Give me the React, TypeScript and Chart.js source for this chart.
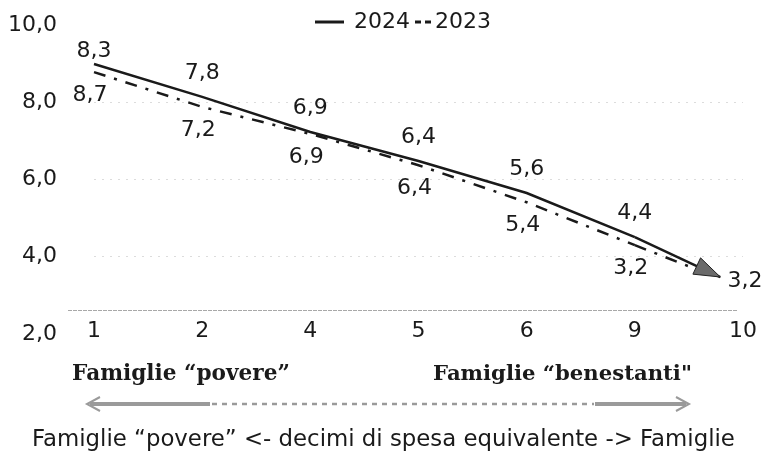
import React, { useEffect, useRef } from "react";
import { Chart, registerables } from "chart.js";

Chart.register(...registerables);

// ---- data ----
const categories = ["1", "2", "4", "5", "6", "9", "10"];
const series2024 = [8.99, 8.14, 7.23, 6.48, 5.65, 4.51, 3.2];
const series2023 = [8.78, 7.88, 7.18, 6.37, 5.41, 4.3, 3.2];
const labels2024 = ["8,3", "7,8", "6,9", "6,4", "5,6", "4,4", "3,2"];
const labels2023 = ["8,7", "7,2", "6,9", "6,4", "5,4", "3,2", ""];
const yTicks = [2, 4, 6, 8, 10];
const legendNames = ["2024", "2023"];
const groupLeft = "Famiglie “povere”";
const groupRight = "Famiglie “benestanti\"";
const footer = "Famiglie “povere” <- decimi di spesa equivalente -> Famiglie";
const baselineValue = 2.62;

const INK = "#1a1a1a";
const SANS = "'DejaVu Sans'";
const SERIF = "'DejaVu Serif'";
const DASH23 = [12, 9, 3, 9];

function fitText(ctx: CanvasRenderingContext2D, text: string, left: number, right: number, baseline: number, family: string, weight: string) {
  ctx.font = `${weight} 20px ${family}`;
  const w = ctx.measureText(text).width;
  const size = (20 * (right - left)) / w;
  ctx.font = `${weight} ${size}px ${family}`;
  ctx.textAlign = "left";
  ctx.textBaseline = "alphabetic";
  ctx.fillText(text, left, baseline);
}

const overlay = {
  id: "overlay",
  beforeDatasetsDraw(chart: any) {
    const ctx: CanvasRenderingContext2D = chart.ctx;
    const y = Math.round(chart.scales.y.getPixelForValue(baselineValue)) + 0.5;
    ctx.save();
    ctx.strokeStyle = "#a8a8a8";
    ctx.lineWidth = 1;
    ctx.setLineDash([4, 1]);
    ctx.beginPath();
    ctx.moveTo(68, y);
    ctx.lineTo(738, y);
    ctx.stroke();
    ctx.restore();
  },
  afterDatasetsDraw(chart: any) {
    const ctx: CanvasRenderingContext2D = chart.ctx;
    const n = categories.length;
    const m24 = chart.getDatasetMeta(0);
    const m23 = chart.getDatasetMeta(1);

    const partial = (meta: any, frac: number, dash: number[]) => {
      const a = meta.data[n - 2];
      const b = meta.data[n - 1];
      const ex = a.x + (b.x - a.x) * frac;
      const ey = a.y + (b.y - a.y) * frac;
      ctx.save();
      ctx.setLineDash(dash);
      ctx.lineWidth = 2.5;
      ctx.strokeStyle = INK;
      ctx.beginPath();
      ctx.moveTo(a.x, a.y);
      ctx.lineTo(ex, ey);
      ctx.stroke();
      ctx.restore();
      return { ex, ey, ang: Math.atan2(b.y - a.y, b.x - a.x) };
    };
    partial(m23, 0.6, DASH23);
    const t = partial(m24, 0.79, []);
    // arrow head
    const L = 26, H = 9;
    const bx = t.ex - L * Math.cos(t.ang);
    const by = t.ey - L * Math.sin(t.ang);
    const px = -Math.sin(t.ang), py = Math.cos(t.ang);
    ctx.save();
    ctx.beginPath();
    ctx.moveTo(t.ex, t.ey);
    ctx.lineTo(bx + px * H, by + py * H);
    ctx.lineTo(bx - px * H, by - py * H);
    ctx.closePath();
    ctx.fillStyle = "#6a6a6a";
    ctx.fill();
    ctx.lineWidth = 1;
    ctx.strokeStyle = "#222";
    ctx.stroke();
    ctx.restore();

    // data labels
    ctx.save();
    ctx.fillStyle = INK;
    ctx.font = `22px ${SANS}`;
    ctx.textAlign = "center";
    ctx.textBaseline = "middle";
    labels2024.forEach((s, i) => {
      const p = m24.data[i];
      if (!s) return;
      if (i === n - 1) ctx.fillText(s, p.x + 2, p.y - 6);
      else ctx.fillText(s, p.x, p.y - (i === 0 ? 13 : 24));
    });
    labels2023.forEach((s, i) => {
      const p = m23.data[i];
      if (!s) return;
      ctx.fillText(s, p.x - 4, p.y + 23);
    });
    ctx.restore();
  },
  afterDraw(chart: any) {
    const ctx: CanvasRenderingContext2D = chart.ctx;
    ctx.save();
    // legend
    ctx.strokeStyle = INK;
    ctx.lineWidth = 3;
    ctx.beginPath();
    ctx.moveTo(315, 22);
    ctx.lineTo(344, 22);
    ctx.stroke();
    ctx.beginPath();
    ctx.moveTo(415, 22);
    ctx.lineTo(421, 22);
    ctx.moveTo(425, 22);
    ctx.lineTo(431, 22);
    ctx.stroke();
    ctx.fillStyle = INK;
    ctx.font = `22px ${SANS}`;
    ctx.textAlign = "left";
    ctx.textBaseline = "middle";
    ctx.fillText(legendNames[0], 354, 22);
    ctx.fillText(legendNames[1], 435, 22);

    // group captions
    fitText(ctx, groupLeft, 72, 290, 380, SERIF, "bold");
    fitText(ctx, groupRight, 433, 692, 380, SERIF, "bold");

    // double arrow
    const y = 404;
    ctx.strokeStyle = "#9a9a9a";
    ctx.lineCap = "butt";
    ctx.lineWidth = 4;
    ctx.beginPath();
    ctx.moveTo(90, y);
    ctx.lineTo(210, y);
    ctx.moveTo(595, y);
    ctx.lineTo(686, y);
    ctx.stroke();
    ctx.lineWidth = 2.5;
    ctx.setLineDash([5, 5]);
    ctx.beginPath();
    ctx.moveTo(212, y);
    ctx.lineTo(594, y);
    ctx.stroke();
    ctx.setLineDash([]);
    ctx.lineWidth = 2;
    ctx.beginPath();
    ctx.moveTo(100, y - 7);
    ctx.lineTo(87, y);
    ctx.lineTo(100, y + 7);
    ctx.moveTo(676, y - 7);
    ctx.lineTo(689, y);
    ctx.lineTo(676, y + 7);
    ctx.stroke();

    // footer
    ctx.fillStyle = INK;
    fitText(ctx, footer, 32, 735, 446, SANS, "normal");
    ctx.restore();
  },
};

export default function App() {
  const ref = useRef<HTMLCanvasElement | null>(null);
  useEffect(() => {
    if (!ref.current) return;
    const last = categories.length - 1;
    const chart = new Chart(ref.current, {
      type: "line",
      data: {
        labels: categories,
        datasets: [
          {
            label: legendNames[0],
            data: series2024,
            borderColor: INK,
            borderWidth: 2.5,
            pointRadius: 0,
            tension: 0,
            segment: { borderColor: (c: any) => (c.p1DataIndex === last ? "rgba(0,0,0,0)" : INK) },
          },
          {
            label: legendNames[1],
            data: series2023,
            borderColor: INK,
            borderWidth: 2.5,
            borderDash: DASH23,
            pointRadius: 0,
            tension: 0,
            segment: { borderColor: (c: any) => (c.p1DataIndex === last ? "rgba(0,0,0,0)" : INK) },
          },
        ],
      },
      options: {
        responsive: false,
        animation: false,
        devicePixelRatio: 1,
        layout: { padding: { left: 8, right: 22, top: 25, bottom: 124 } },
        plugins: { legend: { display: false }, tooltip: { enabled: false } },
        scales: {
          x: {
            position: { y: baselineValue } as any,
            offset: false,
            grid: { display: false, drawTicks: false },
            border: { display: false },
            ticks: { color: INK, font: { family: "DejaVu Sans", size: 22 }, padding: 8, maxRotation: 0, autoSkip: false },
          },
          y: {
            min: 2,
            max: 10,
            afterBuildTicks: (s: any) => {
              s.ticks = yTicks.map((v) => ({ value: v }));
            },
            afterFit: (s: any) => {
              s.width = 86;
              s.paddingTop = 13;
              s.paddingBottom = 13;
            },
            grid: {
              drawTicks: false,
              color: (c: any) => ([4, 6, 8].includes(c.tick?.value) ? "#dcdcdc" : "rgba(0,0,0,0)"),
              lineWidth: 1,
            },
            border: { display: false, dash: [2, 6] },
            ticks: {
              color: INK,
              font: { family: "DejaVu Sans", size: 22 },
              padding: 37,
              callback: (v: any) => Number(v).toFixed(1).replace(".", ","),
            },
          },
        },
      },
      plugins: [overlay],
    });
    return () => chart.destroy();
  }, []);
  return (
    <div style={{ position: "absolute", left: 0, top: 0, width: 765, height: 458, background: "#fff" }}>
      <canvas ref={ref} width={765} height={458} style={{ display: "block" }} />
    </div>
  );
}
